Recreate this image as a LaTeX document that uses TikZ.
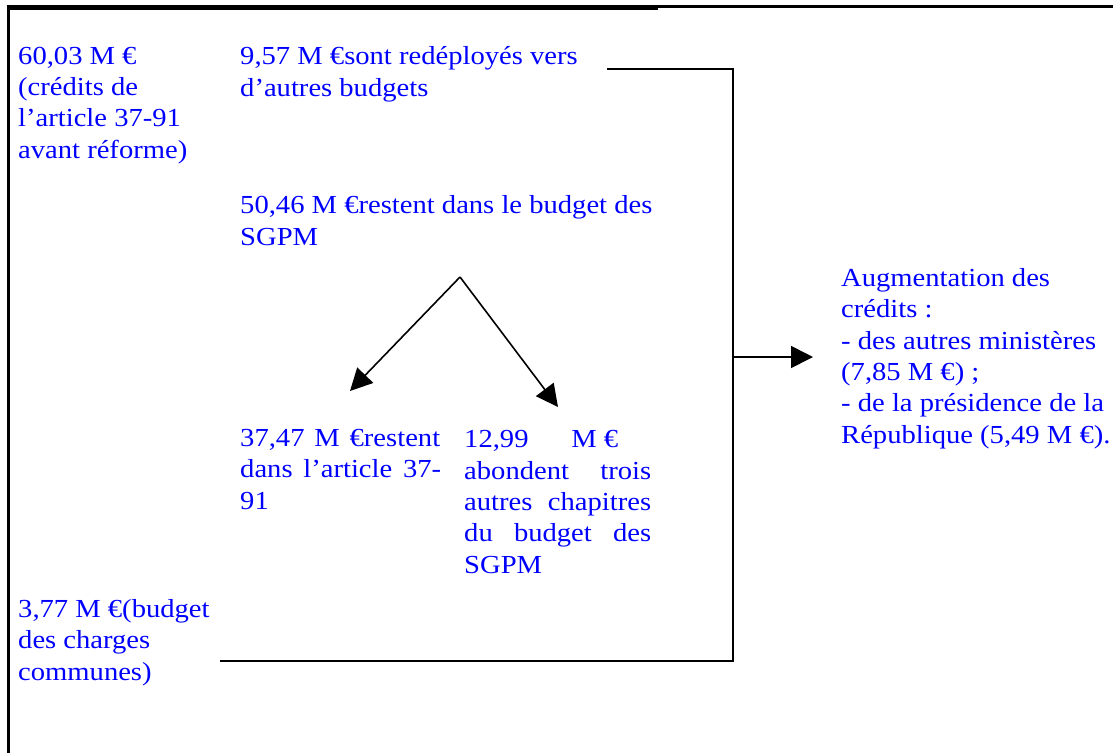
\documentclass[tikz,border=0pt]{standalone}
\usepackage{fontspec}
\setmainfont[FakeStretch=1.1]{Liberation Serif}
\usepackage{tikz}
\usetikzlibrary{arrows.meta,positioning}
\definecolor{ctext}{HTML}{0000FF}
\newcommand{\jline}[2]{\makebox[#1][s]{#2}}
\tikzset{
  txt/.style={anchor=base west, inner sep=0pt, align=left, text=ctext, font=\fontsize{26pt}{31.3pt}\selectfont},
  link/.style={line width=1.6pt},
  pre/.style={link, -{Triangle[length=22pt, width=22pt]}},
  frame/.style={line cap=butt},
}

\begin{document}
\begin{tikzpicture}[x=1pt,y=-1pt]
\useasboundingbox (0,0) rectangle (1113,753);
\draw[frame, line width=5pt] (6.7,7.5) -- (658,7.5);
\draw[frame, line width=2.5pt] (658,6.3) -- (1113,6.3);
\draw[frame, line width=3.3pt] (8.3,5) -- (8.3,753);
% base anchor = baseline of the last line
\node[txt] (n6003) at (18,158) {60,03 M €\\(crédits de\\l’article 37-91\\avant réforme)};
\node[txt] (n957) at (240,96) {9,57 M €sont redéployés vers\\d’autres budgets};
\node[txt] (n5046) at (240,245) {50,46 M €restent dans le budget des\\SGPM};
\node[txt] (n3747) at (240,509) {\jline{200pt}{37,47 M €restent}\\\jline{201pt}{dans l’article 37-}\\91};
\node[txt] (n1299) at (464,573) {\makebox[154pt][l]{12,99\hfill M €}\\\jline{187pt}{abondent trois}\\\jline{187pt}{autres chapitres}\\\jline{187pt}{du budget des}\\SGPM};
\node[txt] (n377) at (18,680) {3,77 M €(budget\\des charges\\communes)};
\node[txt] (naug) at (841,443) {Augmentation des\\crédits :\\- des autres ministères\\(7,85 M €) ;\\- de la présidence de la\\République (5,49 M €).};
\coordinate (apex) at (460,277);
\coordinate (t3747) at (350,391);
\coordinate (t1299) at (558,407);
\coordinate (ltop) at (607,69);
\coordinate (jtop) at (733,69);
\coordinate (lbot) at (220,661);
\coordinate (jbot) at (733,661);
\coordinate (jmid) at (733,357);
\coordinate (taug) at (813,357);
\draw[pre] (apex) -- (t3747);
\draw[pre] (apex) -- (t1299);
\draw[link] (ltop) -- (jtop) -- (jbot) -- (lbot);
\draw[pre] (jmid) -- (taug);
\end{tikzpicture}
\end{document}
